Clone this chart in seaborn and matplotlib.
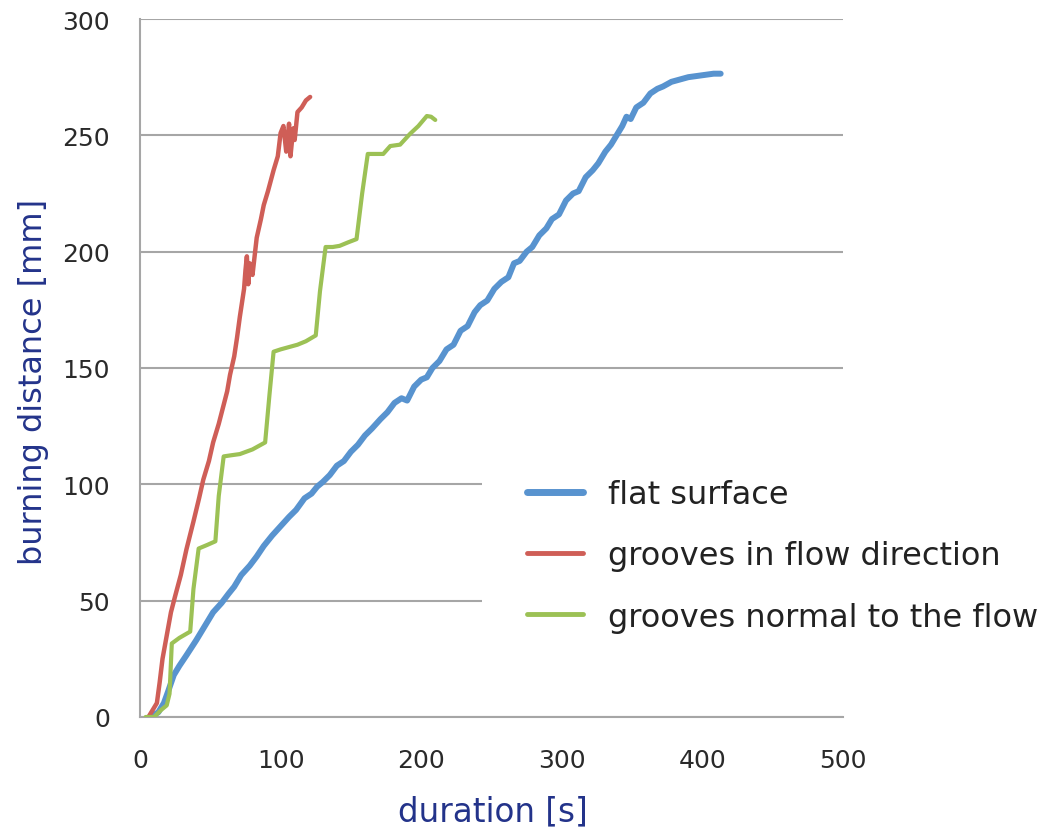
import matplotlib
matplotlib.use("Agg")
import matplotlib.pyplot as plt
import seaborn as sns
import pandas as pd

# ---- data ----
series_names = ["flat surface", "grooves in flow direction", "grooves normal to the flow"]

flat_x = [7, 10, 13, 17, 20, 24, 28, 33, 40, 46, 52, 58, 63, 67, 72, 78, 83, 88, 94, 100,
          106, 111, 117, 122, 126, 130, 135, 140, 145, 150, 155, 160, 165, 171, 176, 181, 186, 190, 195, 200,
          204, 208, 213, 218, 223, 228, 233, 238, 242, 247, 252, 257, 262, 266, 270, 275, 279, 284, 289, 293,
          298, 303, 308, 312, 317, 322, 326, 331, 335, 339, 343, 346, 349, 353, 358, 363, 368, 372, 378, 384,
          390, 396, 402, 408, 413]
flat_y = [0, 1, 2, 6, 11, 18, 22, 26.5, 33, 39, 45, 49, 53, 56, 61, 65, 69, 73.5, 78, 82,
          86, 89, 94, 96, 99, 101, 104, 108, 110, 114, 117, 121, 124, 128, 131, 135, 137, 136, 142, 145,
          146, 150, 153, 158, 160, 166, 168, 174, 177, 179, 184, 187, 189, 195, 196, 200, 202, 207, 210, 214,
          216, 222, 225, 226, 232, 235, 238, 243, 246, 250, 254, 258, 257, 262, 264, 268, 270, 271, 273, 274,
          275, 275.5, 276, 276.5, 276.5]

flow_x = [6, 9, 12, 14, 16, 19, 22, 25, 29, 33, 38, 42, 45, 49, 52, 56, 59, 62, 64, 67,
          69, 71, 74, 75, 76, 77, 78, 80, 83, 86, 88, 91, 95, 98, 100, 102, 104, 106, 107, 109,
          110, 112, 115, 118, 121]
flow_y = [0, 3, 6, 15, 25, 35, 45, 52, 61, 72, 84, 94, 102, 110, 118, 126, 133, 140, 147, 155,
          163, 172, 184, 192, 198, 186, 195, 190, 206, 214, 220, 226, 235, 241, 251, 254, 243, 255, 241, 253,
          248, 260, 262, 265, 266.5]

normal_x = [4, 10, 15, 19, 21, 22.6, 28, 35.7, 38, 41.7, 48, 53.6, 56, 59.5, 65, 71, 80, 89, 92, 95,
            100, 106, 112, 118, 125, 128, 132, 137, 142, 148, 154, 158, 162, 167, 173, 178, 185, 192, 198, 204,
            207, 210]
normal_y = [0, 0, 3, 5, 10, 31.6, 34, 36.7, 55, 72.4, 74, 75.5, 95, 112, 112.5, 113, 115, 118, 138, 157,
            158, 159, 160, 161.5, 164, 183, 202, 202, 202.5, 204, 205.4, 225, 242, 242, 242, 245.4, 246, 250.6, 254, 258.3,
            258, 256.6]

x_ticks = [0, 100, 200, 300, 400, 500]
y_ticks = [0, 50, 100, 150, 200, 250, 300]

colors = {"flat surface": "#5893CF",
          "grooves in flow direction": "#CF5E57",
          "grooves normal to the flow": "#9CC155"}
widths = {"flat surface": 4.3,
          "grooves in flow direction": 3.2,
          "grooves normal to the flow": 3.0}

df = pd.concat([
    pd.DataFrame({"duration": flat_x, "distance": flat_y, "series": series_names[0]}),
    pd.DataFrame({"duration": flow_x, "distance": flow_y, "series": series_names[1]}),
    pd.DataFrame({"duration": normal_x, "distance": normal_y, "series": series_names[2]}),
], ignore_index=True)

sns.set_style("white")
plt.rcParams["font.family"] = ["DejaVu Sans"]

fig = plt.figure(figsize=(10.52, 8.37), dpi=100)
ax = fig.add_axes([0.1331, 0.1422, 0.8013 - 0.1331, 0.9761 - 0.1422])

for name in series_names:
    sub = df[df["series"] == name]
    sns.lineplot(data=sub, x="duration", y="distance", color=colors[name],
                 linewidth=widths[name], sort=False, estimator=None, ax=ax,
                 label=name, solid_joinstyle="round", solid_capstyle="round", zorder=3)

ax.set_xlim(0, 500)
ax.set_ylim(0, 300)
ax.set_xticks(x_ticks)
ax.set_yticks(y_ticks)
ax.set_xticklabels([str(v) for v in x_ticks], fontsize=18, color="#2A2A2A")
ax.set_yticklabels([str(v) for v in y_ticks], fontsize=18, color="#2A2A2A")

ax.yaxis.grid(True, color="#A6A6A6", linewidth=1.5, zorder=0)
ax.xaxis.grid(False)
ax.set_axisbelow(True)
for s in ["top", "right"]:
    ax.spines[s].set_visible(False)
for s in ["left", "bottom"]:
    ax.spines[s].set_color("#A6A6A6")
    ax.spines[s].set_linewidth(1.5)
ax.tick_params(axis="both", which="both", direction="out", length=7.5, width=1.2,
               color="#A6A6A6")
ax.tick_params(axis="x", pad=15)
ax.tick_params(axis="y", pad=14)

ax.set_xlabel("duration [s]", fontsize=23.5, color="#23338A", va="center")
ax.set_ylabel("burning distance [mm]", fontsize=23, color="#23338A", va="center")
ax.xaxis.set_label_coords(0.502, -0.1347)
ax.yaxis.set_label_coords(-0.152, 0.481)

handles, labels = ax.get_legend_handles_labels()
if ax.get_legend():
    ax.get_legend().remove()
leg = fig.legend(handles, labels, loc="center left", bbox_to_anchor=(482 / 1052, 1 - 557 / 837),
                 frameon=True, facecolor="white", edgecolor="none", framealpha=1,
                 fontsize=23, handlelength=1.75, handletextpad=0.78, labelspacing=0.94,
                 borderpad=1.4, borderaxespad=0)
for t in leg.get_texts():
    t.set_color("#222222")
for h, name in zip(leg.legend_handles, labels):
    h.set_linewidth(5 if name == "flat surface" else 3.5)
    h.set_solid_capstyle("round")

fig.savefig("out.png", dpi=100)
